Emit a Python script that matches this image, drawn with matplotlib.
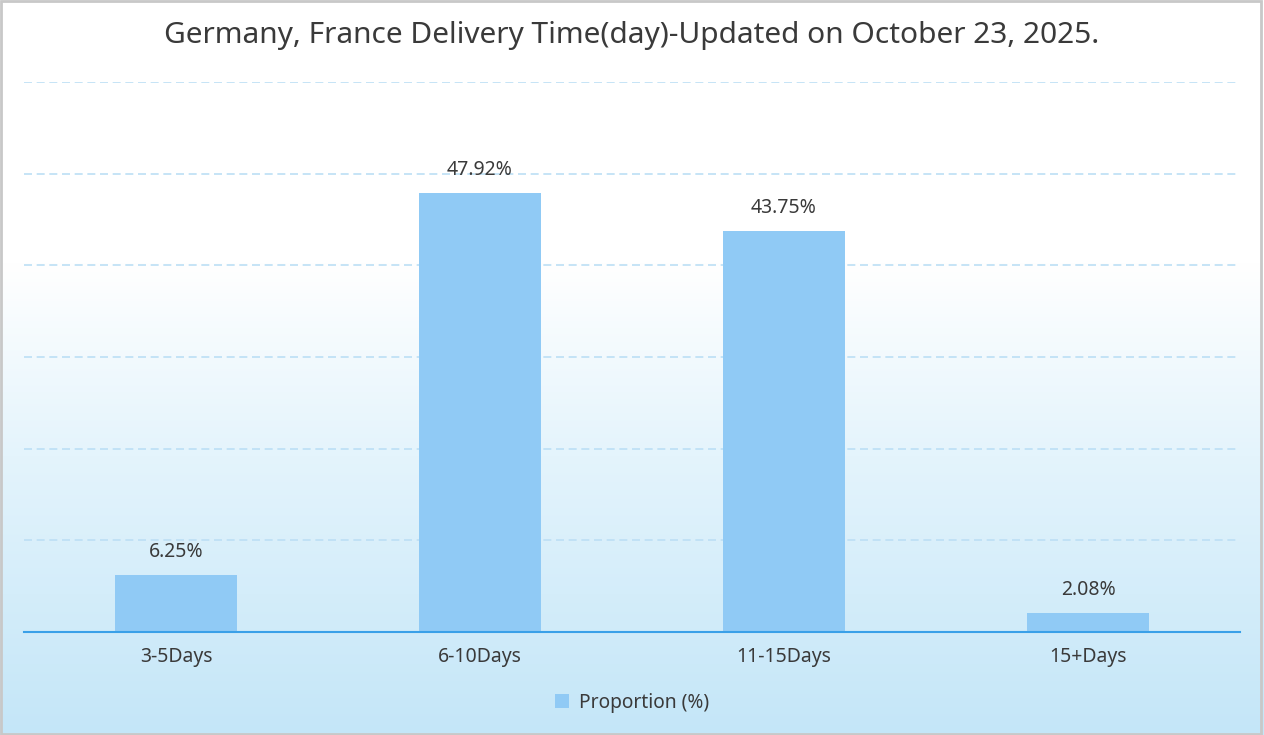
import matplotlib
matplotlib.use("Agg")
import matplotlib.pyplot as plt
import numpy as np
from matplotlib.colors import LinearSegmentedColormap
from matplotlib.patches import Rectangle

categories = ["3-5Days", "6-10Days", "11-15Days", "15+Days"]
proportion = [6.25, 47.92, 43.75, 2.08]
value_labels = ["6.25%", "47.92%", "43.75%", "2.08%"]
series_name = "Proportion (%)"
title = "Germany, France Delivery Time(day)-Updated on October 23, 2025."

W, H = 1264, 735
plt.rcParams["font.family"] = ["Noto Sans", "DejaVu Sans"]
text_color = "#3a3a3a"
bar_color = "#90caf5"

fig = plt.figure(figsize=(W / 100, H / 100), dpi=100)

# background: white at the top fading into pale blue
bg = fig.add_axes([0, 0, 1, 1], zorder=-10)
cmap = LinearSegmentedColormap.from_list(
    "bg", [(0, "#ffffff"), (0.36, "#ffffff"), (0.62, "#e4f4fc"), (1, "#c4e6f8")])
grad = np.linspace(0, 1, 256).reshape(-1, 1)
bg.imshow(grad, aspect="auto", cmap=cmap, extent=[0, 1, 0, 1], origin="upper")
bg.add_patch(Rectangle((0.001, 0.002), 0.997, 0.996, transform=bg.transAxes,
                       fill=False, edgecolor="#c8c8c8", linewidth=2))
bg.set_xlim(0, 1)
bg.set_ylim(0, 1)
bg.axis("off")

ax = fig.add_axes([24 / W, (H - 632) / H, 1216 / W, 550 / H])
ax.patch.set_alpha(0)
x = np.arange(len(categories))
ax.bar(x, proportion, width=0.4, color=bar_color, zorder=3, label=series_name)
ax.set_xlim(-0.5, len(categories) - 0.5)
ax.set_ylim(0, 60)
ax.set_yticks(np.arange(10, 61, 10))
ax.yaxis.grid(True, color="#bcdff5", linestyle=(0, (4.8, 2.8)), linewidth=1.2)
ax.tick_params(axis="y", left=False, labelleft=False)
ax.tick_params(axis="x", length=0, pad=11, labelsize=14, labelcolor=text_color)
ax.set_xticks(x)
ax.set_xticklabels(categories)
for s in ["top", "right", "left"]:
    ax.spines[s].set_visible(False)
ax.spines["bottom"].set_color("#3aa0e8")
ax.spines["bottom"].set_linewidth(1.5)
ax.spines["bottom"].set_zorder(4)

for xi, v, lab in zip(x, proportion, value_labels):
    ax.annotate(lab, (xi, v), xytext=(0, 9), textcoords="offset points",
                ha="center", va="bottom", fontsize=14, color=text_color)

fig.text(0.5, 1 - 36 / H, title, ha="center", va="center",
         fontsize=21.5, color=text_color)

leg = fig.legend(loc="center", bbox_to_anchor=(0.5, 1 - 703 / H), frameon=False,
                 fontsize=13.8, handlelength=0.75, handleheight=0.75, handletextpad=0.5)
for t in leg.get_texts():
    t.set_color(text_color)

fig.savefig("out.png", dpi=100)
